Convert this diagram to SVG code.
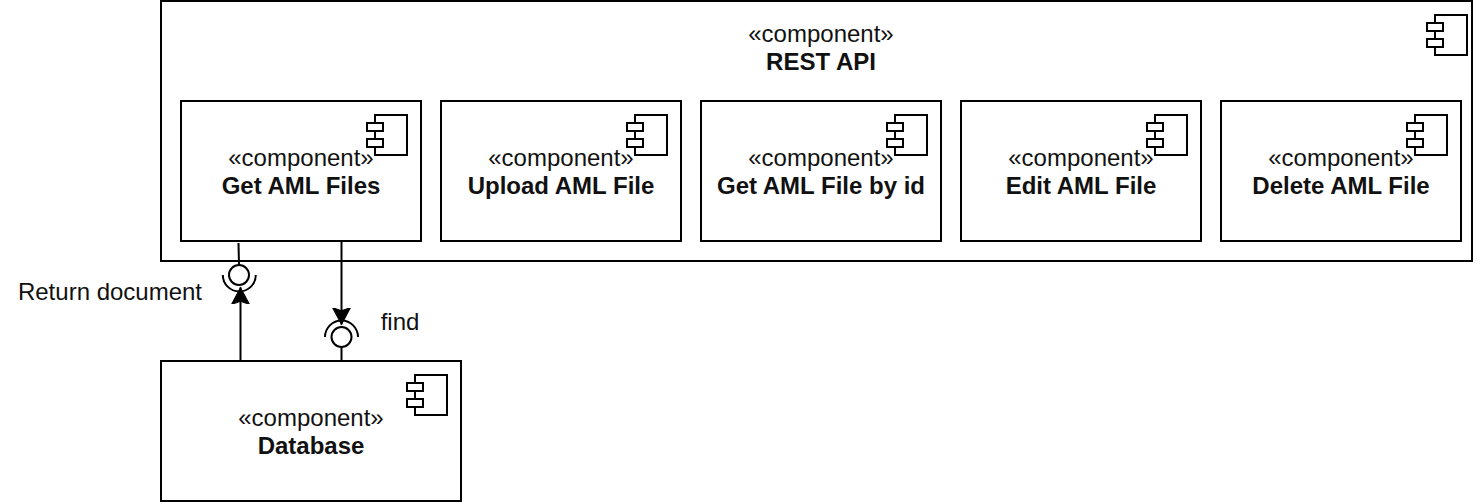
<svg xmlns="http://www.w3.org/2000/svg" width="1482" height="502" viewBox="0 0 1482 502">
<style>
.s{fill:#fff;stroke:#000;stroke-width:2}
.l{fill:none;stroke:#000;stroke-width:2}
text{font-family:"Liberation Sans",Arial,sans-serif;font-size:24px;fill:#111;text-anchor:middle}
.b{font-weight:bold}
</style>
<defs>
<g id="icon">
<rect class="s" x="8" y="0" width="32" height="40"/>
<rect class="s" x="0" y="8" width="16" height="8"/>
<rect class="s" x="0" y="24" width="16" height="8"/>
</g>
<marker id="ah" markerUnits="userSpaceOnUse" markerWidth="19" markerHeight="19" refX="16" refY="9" orient="auto" viewBox="0 0 18 18">
<path d="M0 0.500L16 9L0 17.500L3 9Z" fill="#000" stroke="#000" stroke-width="1"/>
</marker>
</defs>
<g id="rest-api">
<rect class="s" x="161" y="1" width="1311" height="260"/>
<use href="#icon" x="1427" y="15"/>
<text x="821" y="41.500">«component»</text>
<text x="821" y="69.500" class="b">REST API</text>
</g>
<g id="get-aml-files">
<rect class="s" x="181" y="101" width="240" height="140"/>
<use href="#icon" x="367" y="115"/>
<text x="301" y="166">«component»</text>
<text x="301" y="194" class="b">Get AML Files</text>
</g>
<g id="upload-aml-file">
<rect class="s" x="441" y="101" width="240" height="140"/>
<use href="#icon" x="627" y="115"/>
<text x="561" y="166">«component»</text>
<text x="561" y="194" class="b">Upload AML File</text>
</g>
<g id="get-aml-file-by-id">
<rect class="s" x="701" y="101" width="240" height="140"/>
<use href="#icon" x="887" y="115"/>
<text x="821" y="166">«component»</text>
<text x="821" y="194" class="b">Get AML File by id</text>
</g>
<g id="edit-aml-file">
<rect class="s" x="961" y="101" width="240" height="140"/>
<use href="#icon" x="1147" y="115"/>
<text x="1081" y="166">«component»</text>
<text x="1081" y="194" class="b">Edit AML File</text>
</g>
<g id="delete-aml-file">
<rect class="s" x="1221" y="101" width="240" height="140"/>
<use href="#icon" x="1407" y="115"/>
<text x="1341" y="166">«component»</text>
<text x="1341" y="194" class="b">Delete AML File</text>
</g>
<g id="database">
<rect class="s" x="161" y="361" width="300" height="140"/>
<use href="#icon" x="407" y="375"/>
<text x="311" y="426">«component»</text>
<text x="311" y="454" class="b">Database</text>
</g>
<g id="connectors">
<path class="l" d="M238.500 243L239 265"/>
<circle class="l" cx="239" cy="275" r="10"/>
<path class="l" d="M222.800 275A16.500 16.500 0 0 0 255.800 275"/>
<path class="l" d="M240.500 361L240.500 287.500" marker-end="url(#ah)"/>
<path class="l" d="M341.500 241L341.500 324.500" marker-end="url(#ah)"/>
<circle class="l" cx="341.500" cy="337" r="10"/>
<path class="l" d="M325 337A16.500 16.500 0 0 1 358 337"/>
<path class="l" d="M341.500 347L341.500 361"/>
</g>
<g id="labels">
<text x="110" y="299.500">Return document</text>
<text x="400" y="329.500">find</text>
</g>
</svg>
